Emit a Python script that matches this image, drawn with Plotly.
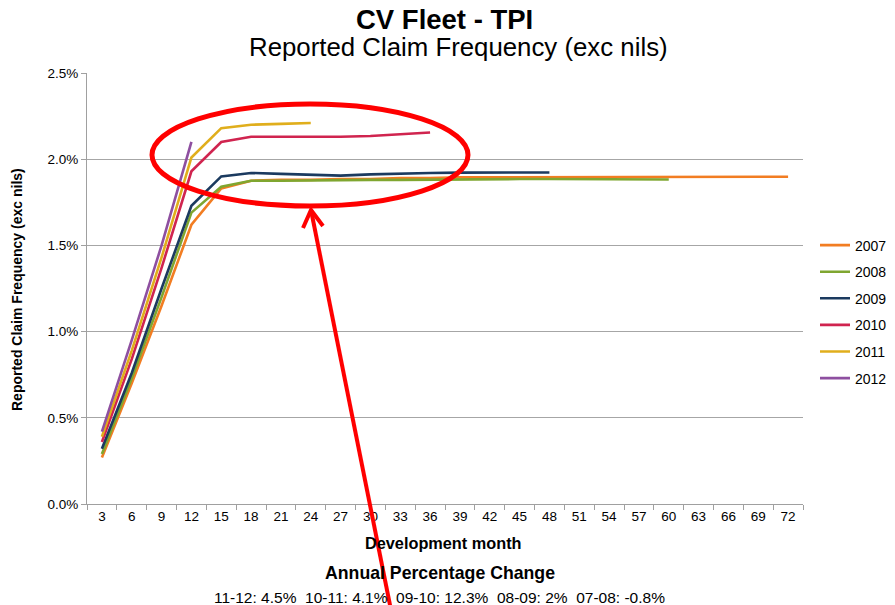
import plotly.graph_objects as go

months = [3, 6, 9, 12, 15, 18, 21, 24, 27, 30, 33, 36, 39, 42, 45, 48, 51, 54, 57, 60, 63, 66, 69, 72]
month_labels = [str(m) for m in months]

years = ["2007", "2008", "2009", "2010", "2011", "2012"]
colors = ["#F27D22", "#7FA630", "#1B3A5F", "#D0244F", "#E0AE1C", "#8E4FA0"]

freq_2007 = [0.27, 0.70, 1.15, 1.62, 1.83, 1.875, 1.88, 1.88, 1.885, 1.885, 1.89, 1.89,
             1.895, 1.895, 1.898, 1.898, 1.898, 1.898, 1.898, 1.898, 1.898, 1.898, 1.898, 1.898]
freq_2008 = [0.29, 0.73, 1.20, 1.69, 1.84, 1.875, 1.875, 1.878, 1.878, 1.88, 1.88, 1.882,
             1.883, 1.885, 1.885, 1.885, 1.885, 1.884, 1.882, 1.882]
freq_2009 = [0.32, 0.76, 1.25, 1.73, 1.90, 1.92, 1.915, 1.91, 1.905, 1.912, 1.918, 1.92,
             1.922, 1.922, 1.923, 1.923]
freq_2010 = [0.36, 0.84, 1.37, 1.93, 2.10, 2.13, 2.13, 2.13, 2.13, 2.135, 2.143, 2.155]
freq_2011 = [0.39, 0.89, 1.43, 2.01, 2.18, 2.20, 2.205, 2.21]
freq_2012 = [0.42, 0.95, 1.50, 2.10]

series = [freq_2007, freq_2008, freq_2009, freq_2010, freq_2011, freq_2012]

change_pairs = [("11-12", "4.5%"), ("10-11", "4.1%"), ("09-10", "12.3%"),
                ("08-09", "2%"), ("07-08", "-0.8%")]
change_text = "&nbsp; ".join(f"{a}: {b}" for a, b in change_pairs)

FONT = "Liberation Sans, Arial, sans-serif"

fig = go.Figure()
for yr, col, vals in zip(years, colors, series):
    fig.add_trace(go.Scatter(
        x=month_labels[:len(vals)],
        y=[v / 100 for v in vals],
        mode="lines",
        name=yr,
        legendgroup=yr,
        line=dict(color=col, width=2.6),
    ))

# page offset (body margin) and plot area in window pixels
OFF = 8
W, H = 895 - OFF, 605 - OFF
L, R, T, B = 87, 803, 73, 504


def px(x):
    return (x - L) / (R - L)


def py(y):
    return (B - y) / (B - T)


shapes = [
    dict(type="circle", xref="paper", yref="paper",
         x0=px(152), x1=px(468), y0=py(206), y1=py(104),
         line=dict(color="#FF0000", width=5)),
    dict(type="line", xref="paper", yref="paper",
         x0=px(311), y0=py(210), x1=px(391), y1=py(610),
         line=dict(color="#FF0000", width=4)),
    dict(type="path", xref="paper", yref="paper",
         path=f"M {px(303)},{py(228)} L {px(311)},{py(210)} L {px(323)},{py(226)}",
         line=dict(color="#FF0000", width=4)),
]

annotations = [
    dict(text="<b>CV Fleet - TPI</b>", xref="paper", yref="paper", x=px(444), y=py(20),
         showarrow=False, font=dict(family=FONT, size=27.5, color="#000000"),
         xanchor="center", yanchor="middle"),
    dict(text="Reported Claim Frequency (exc nils)", xref="paper", yref="paper",
         x=px(458), y=py(47), showarrow=False,
         font=dict(family=FONT, size=25.8, color="#000000"),
         xanchor="center", yanchor="middle"),
    dict(text="<b>Reported Claim Frequency (exc nils)</b>", xref="paper", yref="paper",
         x=px(17), y=py(290), textangle=-90, showarrow=False,
         font=dict(family=FONT, size=14, color="#000000"),
         xanchor="center", yanchor="middle"),
    dict(text="<b>Development month</b>", xref="paper", yref="paper",
         x=px(443), y=py(543), showarrow=False,
         font=dict(family=FONT, size=16.3, color="#000000"),
         xanchor="center", yanchor="middle"),
    dict(text="<b>Annual Percentage Change</b>", xref="paper", yref="paper",
         x=px(440), y=py(573), showarrow=False,
         font=dict(family=FONT, size=17.7, color="#000000"),
         xanchor="center", yanchor="middle"),
    dict(text=change_text, xref="paper", yref="paper",
         x=px(439), y=py(597), showarrow=False,
         font=dict(family=FONT, size=15.5, color="#000000"),
         xanchor="center", yanchor="middle"),
]

fig.update_layout(
    width=W, height=H,
    margin=dict(l=L - OFF, r=W - (R - OFF), t=T - OFF, b=H - (B - OFF), pad=0,
                autoexpand=False),
    paper_bgcolor="white", plot_bgcolor="white",
    font=dict(family=FONT, size=13, color="#000000"),
    showlegend=True,
    legend=dict(x=px(815), y=py(312), xanchor="left", yanchor="middle",
                font=dict(family=FONT, size=14, color="#000000"),
                tracegroupgap=5.4, bgcolor="rgba(0,0,0,0)", borderwidth=0),
    xaxis=dict(type="category", categoryorder="array", categoryarray=month_labels,
               range=[-0.5, len(months) - 0.5], showgrid=False,
               showline=True, linecolor="#A0A0A0", linewidth=1,
               ticks="outside", tickson="boundaries", ticklen=5, tickcolor="#A0A0A0",
               tickfont=dict(family=FONT, size=13.5, color="#000000"), zeroline=False),
    yaxis=dict(range=[0, 0.025], dtick=0.005, tickformat=".1%",
               showgrid=True, gridcolor="#A6A6A6", gridwidth=1,
               showline=True, linecolor="#A0A0A0", linewidth=1,
               ticks="outside", ticklen=5, tickcolor="#A0A0A0",
               tickfont=dict(family=FONT, size=13.5, color="#000000"), zeroline=False),
    shapes=shapes,
    annotations=annotations,
)

fig.write_html("out.html")
